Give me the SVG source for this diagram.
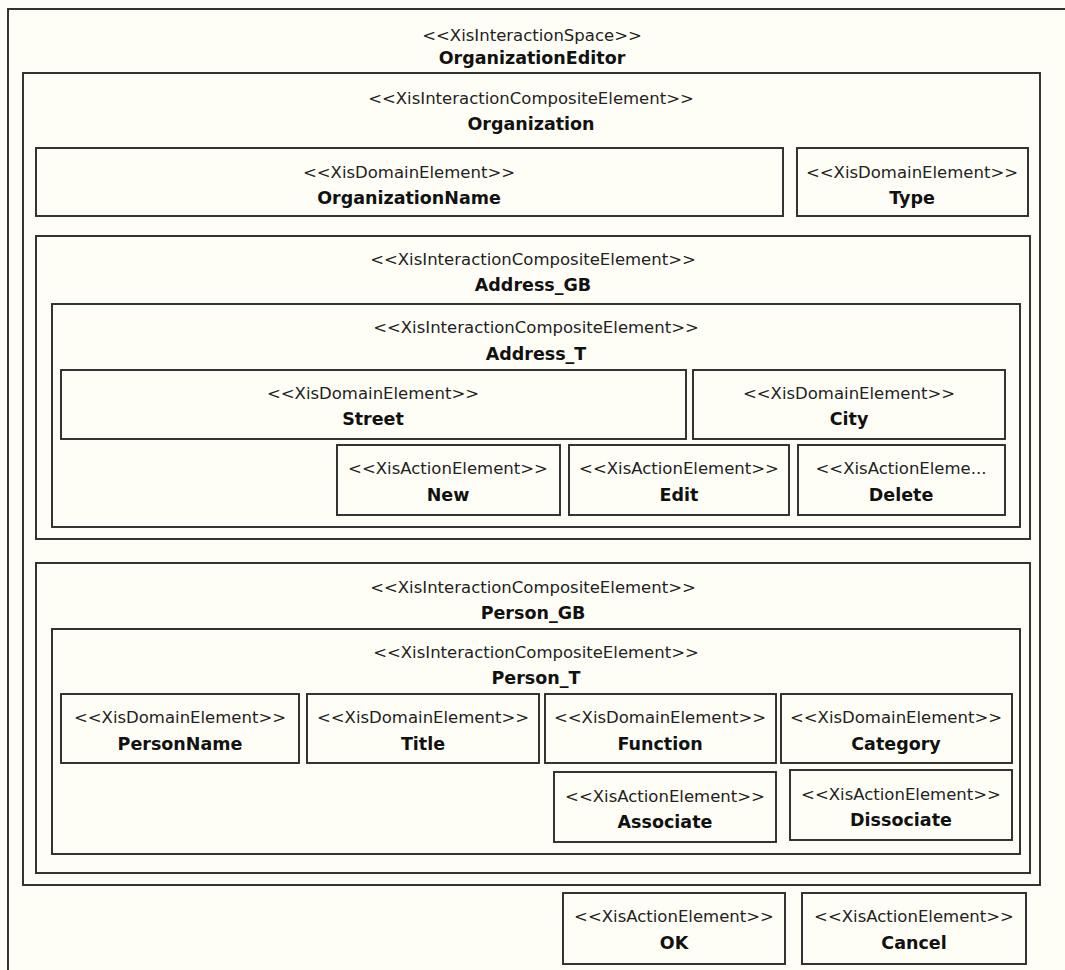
<svg xmlns="http://www.w3.org/2000/svg" width="1065" height="970" viewBox="0 0 1065 970">
  <style>
    .bg { fill: #fefef7; }
    .box { fill: #fefef7; stroke: #2a2a2a; stroke-width: 1.9; }
    .st { font-family: "DejaVu Sans", Verdana, sans-serif; font-size: 16.5px; fill: #222; text-anchor: middle; dominant-baseline: central; }
    .nm { font-family: "DejaVu Sans", Verdana, sans-serif; font-size: 17.5px; font-weight: bold; fill: #111; text-anchor: middle; dominant-baseline: central; }
  </style>
  <rect class="bg" x="0" y="0" width="1065" height="970"/>

  <!-- interaction space frame (runs past the right and bottom edges) -->
  <g id="OrganizationEditor">
    <rect class="box" x="8" y="9" width="1080" height="980"/>
    <text class="st" x="532" y="35">&lt;&lt;XisInteractionSpace&gt;&gt;</text>
    <text class="nm" x="532" y="58">OrganizationEditor</text>
  </g>

  <g id="Organization">
    <rect class="box" x="23" y="73" width="1017" height="812"/>
    <text class="st" x="531" y="98">&lt;&lt;XisInteractionCompositeElement&gt;&gt;</text>
    <text class="nm" x="531" y="124">Organization</text>
  </g>

  <g id="OrganizationName">
    <rect class="box" x="36" y="148" width="747" height="68"/>
    <text class="st" x="409" y="172">&lt;&lt;XisDomainElement&gt;&gt;</text>
    <text class="nm" x="409" y="198">OrganizationName</text>
  </g>

  <g id="Type">
    <rect class="box" x="797" y="148" width="231" height="68"/>
    <text class="st" x="912" y="172">&lt;&lt;XisDomainElement&gt;&gt;</text>
    <text class="nm" x="912" y="198">Type</text>
  </g>

  <g id="Address_GB">
    <rect class="box" x="36" y="236" width="994" height="303"/>
    <text class="st" x="533" y="259">&lt;&lt;XisInteractionCompositeElement&gt;&gt;</text>
    <text class="nm" x="533" y="285">Address_GB</text>
  </g>

  <g id="Address_T">
    <rect class="box" x="52" y="304" width="968" height="223"/>
    <text class="st" x="536" y="327">&lt;&lt;XisInteractionCompositeElement&gt;&gt;</text>
    <text class="nm" x="536" y="354">Address_T</text>
  </g>

  <g id="Street">
    <rect class="box" x="61" y="370" width="625" height="69"/>
    <text class="st" x="373" y="393">&lt;&lt;XisDomainElement&gt;&gt;</text>
    <text class="nm" x="373" y="419">Street</text>
  </g>

  <g id="City">
    <rect class="box" x="693" y="370" width="312" height="69"/>
    <text class="st" x="849" y="393">&lt;&lt;XisDomainElement&gt;&gt;</text>
    <text class="nm" x="849" y="419">City</text>
  </g>

  <g id="New">
    <rect class="box" x="337" y="445" width="223" height="70"/>
    <text class="st" x="448" y="468">&lt;&lt;XisActionElement&gt;&gt;</text>
    <text class="nm" x="448" y="495">New</text>
  </g>

  <g id="Edit">
    <rect class="box" x="569" y="445" width="220" height="70"/>
    <text class="st" x="679" y="468">&lt;&lt;XisActionElement&gt;&gt;</text>
    <text class="nm" x="679" y="495">Edit</text>
  </g>

  <g id="Delete">
    <rect class="box" x="798" y="445" width="207" height="70"/>
    <text class="st" x="901" y="468">&lt;&lt;XisActionEleme...</text>
    <text class="nm" x="901" y="495">Delete</text>
  </g>

  <g id="Person_GB">
    <rect class="box" x="36" y="563" width="994" height="310"/>
    <text class="st" x="533" y="587">&lt;&lt;XisInteractionCompositeElement&gt;&gt;</text>
    <text class="nm" x="533" y="613">Person_GB</text>
  </g>

  <g id="Person_T">
    <rect class="box" x="52" y="629" width="968" height="225"/>
    <text class="st" x="536" y="652">&lt;&lt;XisInteractionCompositeElement&gt;&gt;</text>
    <text class="nm" x="536" y="678">Person_T</text>
  </g>

  <g id="PersonName">
    <rect class="box" x="61" y="694" width="238" height="69"/>
    <text class="st" x="180" y="717">&lt;&lt;XisDomainElement&gt;&gt;</text>
    <text class="nm" x="180" y="744">PersonName</text>
  </g>

  <g id="Title">
    <rect class="box" x="307" y="694" width="232" height="69"/>
    <text class="st" x="423" y="717">&lt;&lt;XisDomainElement&gt;&gt;</text>
    <text class="nm" x="423" y="744">Title</text>
  </g>

  <g id="Function">
    <rect class="box" x="545" y="694" width="231" height="69"/>
    <text class="st" x="660" y="717">&lt;&lt;XisDomainElement&gt;&gt;</text>
    <text class="nm" x="660" y="744">Function</text>
  </g>

  <g id="Category">
    <rect class="box" x="781" y="694" width="231" height="69"/>
    <text class="st" x="896" y="717">&lt;&lt;XisDomainElement&gt;&gt;</text>
    <text class="nm" x="896" y="744">Category</text>
  </g>

  <g id="Associate">
    <rect class="box" x="554" y="772" width="222" height="70"/>
    <text class="st" x="665" y="796">&lt;&lt;XisActionElement&gt;&gt;</text>
    <text class="nm" x="665" y="822">Associate</text>
  </g>

  <g id="Dissociate">
    <rect class="box" x="790" y="770" width="222" height="70"/>
    <text class="st" x="901" y="794">&lt;&lt;XisActionElement&gt;&gt;</text>
    <text class="nm" x="901" y="820">Dissociate</text>
  </g>

  <g id="OK">
    <rect class="box" x="563" y="893" width="222" height="71"/>
    <text class="st" x="674" y="916">&lt;&lt;XisActionElement&gt;&gt;</text>
    <text class="nm" x="674" y="943">OK</text>
  </g>

  <g id="Cancel">
    <rect class="box" x="802" y="893" width="224" height="71"/>
    <text class="st" x="914" y="916">&lt;&lt;XisActionElement&gt;&gt;</text>
    <text class="nm" x="914" y="943">Cancel</text>
  </g>

  <!-- containment only; no connectors in this view -->
  <g id="connectors"/>
</svg>
